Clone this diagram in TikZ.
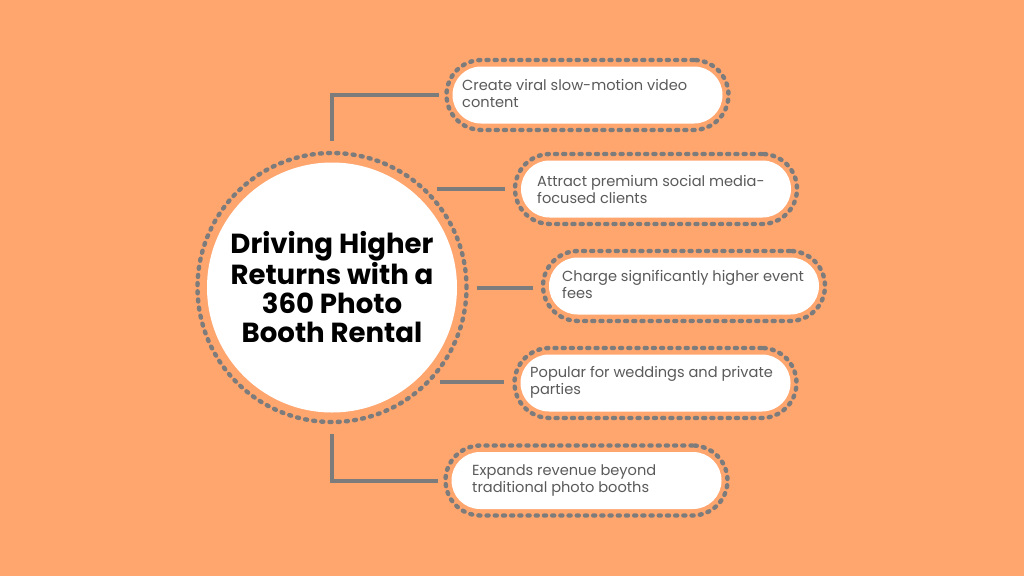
\documentclass[tikz,border=0pt]{standalone}
\usepackage{fontspec}
\setmainfont{Poppins}
\usetikzlibrary{calc}
\definecolor{bg}{HTML}{FFA56E}
\definecolor{ln}{HTML}{7C7C7C}
\definecolor{tx}{HTML}{5A5A5A}
\begin{document}
\begin{tikzpicture}[x=1pt,y=-1pt,
 dots/.style={draw=ln, line width=4.4pt, line cap=round, dash pattern=on 2pt off 6.2pt},
 outerpill/.style={dots, rectangle, rounded corners=35pt, minimum width=282pt, minimum height=70pt, inner sep=0pt},
 innerpill/.style={fill=white, rectangle, rounded corners=28.5pt, minimum width=270pt, minimum height=57pt, inner sep=0pt},
 ptext/.style={anchor=west, align=left, text=tx, font=\fontsize{14.6}{17}\selectfont, inner sep=0pt},
 conn/.style={draw=ln, line width=4pt},
]
\fill[bg] (0,0) rectangle (1024,576);
\useasboundingbox (0,0) rectangle (1024,576);

% central circle
\node[circle, dots, minimum size=269pt, inner sep=0pt] (cd) at (332,287.5) {};
\node[circle, fill=white, minimum size=250pt, inner sep=0pt] (c) at (332,287.5) {};
\node[align=center, font=\fontsize{27.6}{29}\selectfont\bfseries] (title) at (332,287) {Driving Higher\\Returns with a\\360 Photo\\Booth Rental};

% pills
\node[outerpill] (o1) at (587.5,95) {};
\node[innerpill] (p1) at (o1) {};
\node[ptext] (t1) at (462,93.5) {Create viral slow-motion video\\content};

\node[outerpill] (o2) at (656,189) {};
\node[innerpill] (p2) at (o2) {};
\node[ptext] (t2) at (537,189.5) {Attract premium social media-\\focused clients};

\node[outerpill] (o3) at (684,286) {};
\node[innerpill] (p3) at (o3) {};
\node[ptext] (t3) at (562,284.5) {Charge significantly higher event\\fees};

\node[outerpill] (o4) at (655.5,383) {};
\node[innerpill] (p4) at (o4) {};
\node[ptext] (t4) at (530,382) {Popular for weddings and private\\parties};

\node[outerpill] (o5) at (586.5,480.5) {};
\node[innerpill] (p5) at (o5) {};
\node[ptext] (t5) at (472,480) {Expands revenue beyond\\traditional photo booths};

% connectors
\draw[conn, shorten <=10pt, shorten >=5pt] (cd.north) |- (o1.west);
\draw[conn, shorten <=10pt, shorten >=8pt] (cd.46) -- (cd.46 -| o2.west);
\draw[conn, shorten <=8pt, shorten >=8pt] (cd.east) -- (cd.east -| o3.west);
\draw[conn, shorten <=10pt, shorten >=8pt] (cd.-44.5) -- (cd.-44.5 -| o4.west);
\draw[conn, shorten <=10pt, shorten >=5pt] (cd.south) |- (o5.west);
\end{tikzpicture}
\end{document}
